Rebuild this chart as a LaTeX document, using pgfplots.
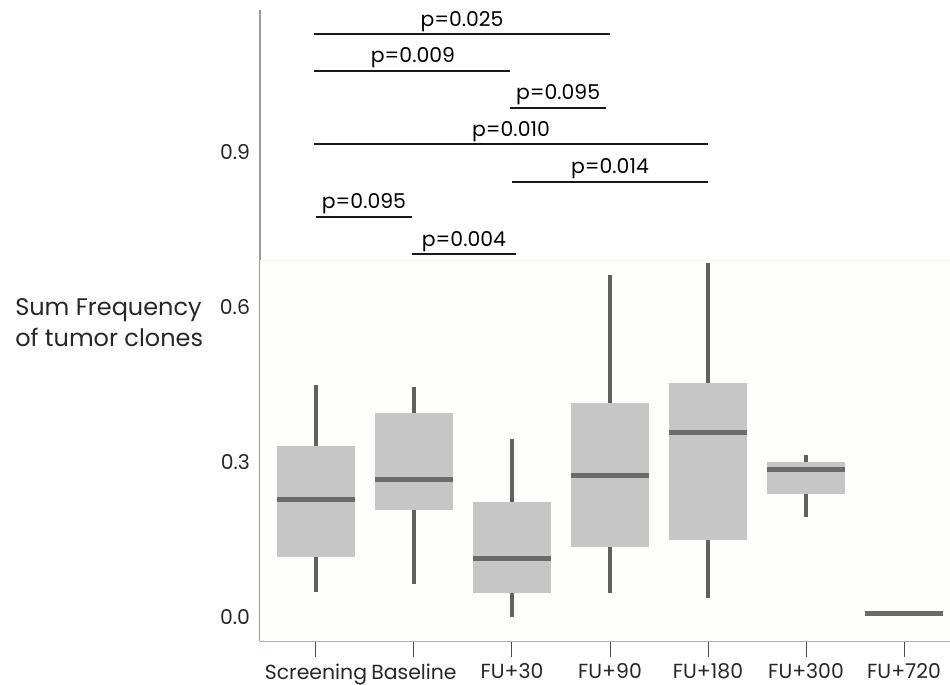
\documentclass[border=0pt]{standalone}
\usepackage{fontspec}
\setmainfont{Poppins}
\usepackage{pgfplots}
\pgfplotsset{compat=1.18}
\usepgfplotslibrary{statistics}
\definecolor{boxgray}{HTML}{C6C6C6}
\definecolor{medc}{HTML}{6A6A6A}
\definecolor{whisk}{HTML}{606060}
\definecolor{xaxc}{HTML}{9FB6C6}
\definecolor{yaxc}{HTML}{9A9A9A}
\definecolor{bgc}{HTML}{FEFEFD}
\newcommand{\fs}{\fontsize{15.3}{18.75}\selectfont}
\newcommand{\fl}{\fontsize{18}{23.25}\selectfont}
\begin{document}
\begin{tikzpicture}
\begin{axis}[
  scale only axis,
  width=517.5pt, height=473.25pt,
  xmin=-0.571, xmax=6.469,
  ymin=-0.0464, ymax=1.1748,
  axis x line*=bottom, axis y line*=left,
  x axis line style={draw=xaxc, line width=0.9pt},
  y axis line style={draw=yaxc, line width=0.9pt},
  xtick={0,1,2,3,4,5,6},
  xticklabels={Screening,Baseline,FU+30,FU+90,FU+180,FU+300,FU+720},
  ytick={0,0.3,0.6,0.9},
  yticklabel style={xshift=8pt, /pgf/number format/.cd, fixed, fixed zerofill, precision=1},
  /pgf/number format/assume math mode=true,
  tick label style={font=\fs, text=black!85},
  xticklabel style={yshift=-1.5pt},
  xtick style={draw=black!70, line width=0.75pt},
  tick align=outside,
  major tick length=12pt,
  ytick style={draw=none},
  boxplot/draw direction=y,
  boxplot/every box/.style={draw=none, fill=boxgray},
  boxplot/every whisker/.style={draw=whisk, line width=2.4pt, line cap=butt},
  boxplot/every median/.style={draw=medc, line width=3.75pt},
  clip=false,
]
\fill[bgc] (axis cs:-0.571,-0.0464) rectangle (axis cs:6.469,0.691);
\draw[black!4, line width=0.6pt] (axis cs:-0.571,0.691) -- (axis cs:6.469,0.691);
\addplot[boxplot prepared={lower whisker=0.049, lower quartile=0.1155, median=0.227, upper quartile=0.331, upper whisker=0.449, draw position=0, box extend=0.79, whisker extend=0}, draw=none] coordinates {};
\addplot[boxplot prepared={lower whisker=0.063, lower quartile=0.208, median=0.266, upper quartile=0.395, upper whisker=0.446, draw position=1, box extend=0.79, whisker extend=0}, draw=none] coordinates {};
\addplot[boxplot prepared={lower whisker=0.001, lower quartile=0.046, median=0.114, upper quartile=0.223, upper whisker=0.345, draw position=2, box extend=0.79, whisker extend=0}, draw=none] coordinates {};
\addplot[boxplot prepared={lower whisker=0.047, lower quartile=0.136, median=0.2735, upper quartile=0.4136, upper whisker=0.662, draw position=3, box extend=0.79, whisker extend=0}, draw=none] coordinates {};
\addplot[boxplot prepared={lower whisker=0.036, lower quartile=0.150, median=0.3574, upper quartile=0.4535, upper whisker=0.6845, draw position=4, box extend=0.79, whisker extend=0}, draw=none] coordinates {};
\addplot[boxplot prepared={lower whisker=0.193, lower quartile=0.2374, median=0.2864, upper quartile=0.3006, upper whisker=0.3135, draw position=5, box extend=0.79, whisker extend=0}, draw=none] coordinates {};
\addplot[boxplot prepared={lower whisker=0.0068, lower quartile=0.0068, median=0.0068, upper quartile=0.0068, upper whisker=0.0068, draw position=6, box extend=0.79, whisker extend=0}, draw=none] coordinates {};
% significance bars
\addplot[black!90, line width=1.5pt] coordinates {(-0.02,1.128) (3.0,1.128)};
\addplot[black!90, line width=1.5pt] coordinates {(-0.02,1.057) (1.98,1.057)};
\addplot[black!90, line width=1.5pt] coordinates {(1.98,0.986) (2.96,0.986)};
\addplot[black!90, line width=1.5pt] coordinates {(-0.02,0.915) (4.0,0.915)};
\addplot[black!90, line width=1.5pt] coordinates {(2.0,0.842) (4.0,0.842)};
\addplot[black!90, line width=1.5pt] coordinates {(0.0,0.775) (0.98,0.775)};
\addplot[black!90, line width=1.5pt] coordinates {(0.98,0.7025) (2.04,0.7025)};
\node[font=\fs, anchor=base, yshift=6pt] at (axis cs:1.49,1.128) {p=0.025};
\node[font=\fs, anchor=base, yshift=6pt] at (axis cs:0.99,1.057) {p=0.009};
\node[font=\fs, anchor=base, yshift=6pt] at (axis cs:2.47,0.986) {p=0.095};
\node[font=\fs, anchor=base, yshift=6pt] at (axis cs:1.99,0.915) {p=0.010};
\node[font=\fs, anchor=base, yshift=6pt] at (axis cs:3.0,0.842) {p=0.014};
\node[font=\fs, anchor=base, yshift=6pt] at (axis cs:0.49,0.775) {p=0.095};
\node[font=\fs, anchor=base, yshift=6pt] at (axis cs:1.51,0.7025) {p=0.004};
\coordinate (ylab) at (axis cs:-0.571,0.570);
\coordinate (sw) at (axis cs:-0.571,-0.0464);
\coordinate (ne) at (axis cs:6.469,1.1748);
\end{axis}
\node[anchor=west, align=left, font=\fl, text=black!85, inner sep=0pt] at ([xshift=-183.75pt]ylab) {Sum Frequency\\of tumor clones};
\pgfresetboundingbox
\path[use as bounding box] ([xshift=-195pt, yshift=-33pt]sw) rectangle ([yshift=7.5pt]ne);
\end{tikzpicture}
\end{document}
